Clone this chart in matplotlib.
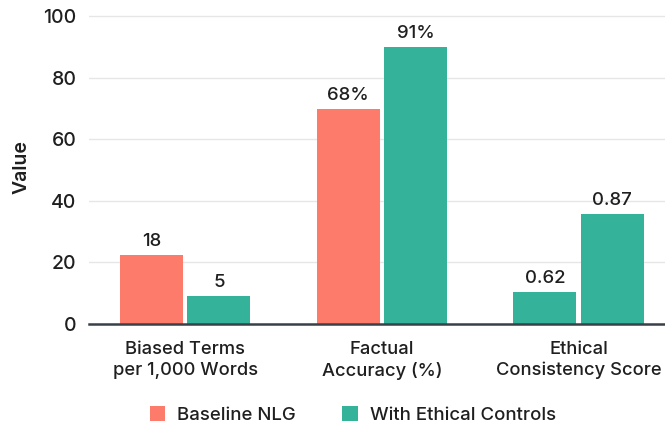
import matplotlib
matplotlib.use("Agg")
import matplotlib.pyplot as plt
from matplotlib.patches import Patch

plt.rcParams["font.family"] = ["Inter", "DejaVu Sans"]
plt.rcParams["font.weight"] = "medium"

categories = ["Biased Terms\nper 1,000 Words", "Factual\nAccuracy (%)", "Ethical\nConsistency Score"]
series_names = ["Baseline NLG", "With Ethical Controls"]
baseline_values = [22.5, 70, 10.5]
controls_values = [9.2, 90, 35.7]
baseline_labels = ["18", "68%", "0.62"]
controls_labels = ["5", "91%", "0.87"]
yticks = [0, 20, 40, 60, 80, 100]

CORAL = "#FD7B6B"
TEAL = "#34B39A"
TEXT = "#1f1f1f"
baseline_colors = [CORAL, CORAL, TEAL]
controls_colors = [TEAL, TEAL, TEAL]

fig = plt.figure(figsize=(6.65, 4.26), dpi=100)
ax = fig.add_axes([89 / 665, 102 / 426, 1 - 89 / 665, 314 / 426])

x = list(range(len(categories)))
w = 0.32
off = 0.171
b1 = ax.bar([i - off for i in x], baseline_values, width=w, color=baseline_colors, zorder=3)
b2 = ax.bar([i + off for i in x], controls_values, width=w, color=controls_colors, zorder=3)

for bars, labels in ((b1, baseline_labels), (b2, controls_labels)):
    for rect, lab in zip(bars, labels):
        ax.annotate(lab, (rect.get_x() + rect.get_width() / 2, rect.get_height()),
                    xytext=(0, 3.5), textcoords="offset points", ha="center", va="bottom",
                    fontsize=13.4, color=TEXT, zorder=4)

ax.set_xlim(-0.49, 2.44)
ax.set_ylim(0, 102)
ax.set_yticks(yticks)
ax.set_xticks(x)
ax.set_xticklabels(categories, fontsize=13.2, color=TEXT, linespacing=1.3)
ax.tick_params(axis="y", length=0, pad=9, labelsize=14, labelcolor=TEXT)
ax.tick_params(axis="x", length=0, pad=12)
ax.grid(axis="y", color="#e6e6e6", linewidth=1.0, zorder=0)
ax.set_axisbelow(True)
for s in ("top", "right", "left"):
    ax.spines[s].set_visible(False)
ax.spines["bottom"].set_color("#3a4048")
ax.spines["bottom"].set_linewidth(1.8)
ax.spines["bottom"].set_zorder(5)
ax.set_ylabel("Value", fontsize=14, fontweight="semibold", color=TEXT, labelpad=9)

handles = [Patch(facecolor=CORAL, label=series_names[0]),
           Patch(facecolor=TEAL, label=series_names[1])]
fig.legend(handles=handles, loc="lower left", bbox_to_anchor=(133 / 665, -0.035), ncol=2,
           frameon=False, fontsize=13.4, handlelength=0.82, handleheight=0.82,
           handletextpad=0.65, columnspacing=2.5, labelcolor=TEXT)

fig.savefig("out.png", dpi=100, facecolor="white")
